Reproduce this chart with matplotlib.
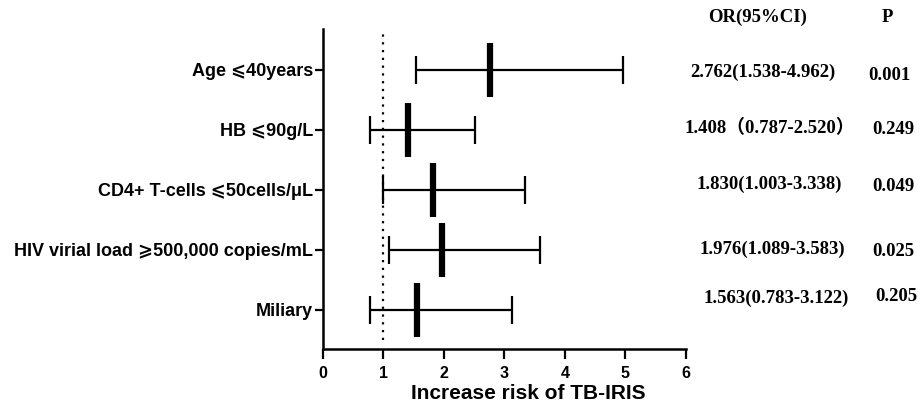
import numpy as np
import matplotlib
matplotlib.use("Agg")
import matplotlib.pyplot as plt

# ========================================================= #
# ===  data                                             === #
# ========================================================= #
labels   = [ "Age \u2a7d40years", "HB \u2a7d90g/L", "CD4+ T-cells \u2a7d50cells/\u03bcL",
             "HIV virial load \u2a7e500,000 copies/mL", "Miliary" ]
odds     = [ 2.762, 1.408, 1.830, 1.976, 1.563 ]
ci_low   = [ 1.538, 0.787, 1.003, 1.089, 0.783 ]
ci_high  = [ 4.962, 2.520, 3.338, 3.583, 3.122 ]
or_texts = [ "2.762(1.538-4.962)", "1.408\uff080.787-2.520\uff09", "1.830(1.003-3.338)",
             "1.976(1.089-3.583)", "1.563(0.783-3.122)" ]
p_texts  = [ "0.001", "0.249", "0.049", "0.025", "0.205" ]
xticks   = [ 0, 1, 2, 3, 4, 5, 6 ]

sans  = [ "Liberation Sans", "DejaVu Sans" ]
serif = [ "Liberation Serif", "Noto Sans CJK SC", "DejaVu Serif" ]

# ========================================================= #
# ===  plot region                                      === #
# ========================================================= #
fig = plt.figure( figsize=(9.22,4.12), dpi=100 )
ax  = fig.add_axes( [ 0.350, 0.153, 0.394, 0.777 ] )

n    = len( labels )
ypos = np.arange( n )[::-1]          # first row on top

# --- reference line at OR = 1 --- #
ax.vlines( 1.0, -0.5, 4.6, colors="black", linestyles=(0,(1,2.5)), linewidth=1.6 )

# --- CI whiskers with caps --- #
odds = np.array( odds ); lo = np.array( ci_low ); hi = np.array( ci_high )
ax.errorbar( odds, ypos, xerr=[ odds-lo, hi-odds ], fmt="none", ecolor="black",
             elinewidth=1.6, capsize=10, capthick=1.6 )
# --- point estimates as thick bars --- #
ax.plot( odds, ypos, linestyle="none", marker="|", markersize=39,
         markeredgewidth=4.5, color="black" )

# ========================================================= #
# ===  axis settings                                    === #
# ========================================================= #
ax.set_xlim( 0, 6 )
ax.set_ylim( -0.65, 4.683 )
ax.set_xticks( xticks )
ax.set_yticks( ypos )
ax.set_yticklabels( labels )
for t in ax.get_yticklabels():
    t.set_family( sans ); t.set_fontweight( "bold" ); t.set_fontsize( 13 )
for t in ax.get_xticklabels():
    t.set_family( sans ); t.set_fontweight( "bold" ); t.set_fontsize( 11.5 )
ax.tick_params( axis="x", direction="out", length=7, width=1.6, pad=5 )
ax.tick_params( axis="y", direction="out", length=6, width=1.6, pad=1 )
for s in [ "top", "right" ]:
    ax.spines[s].set_visible( False )
for s in [ "left", "bottom" ]:
    ax.spines[s].set_linewidth( 1.8 )
ax.set_xlabel( "Increase risk of TB-IRIS", family=sans, fontweight="bold",
               fontsize=15 )
ax.xaxis.label.set_va( "center" )
ax.xaxis.set_label_coords( 0.565, -0.138 )

# ========================================================= #
# ===  right-hand table                                 === #
# ========================================================= #
or_x = [ 7.27, 7.39, 7.38, 7.42, 7.49 ]
or_y = [ 3.95, 3.03, 2.10, 1.01, 0.20 ]
p_x  = [ 9.36, 9.42, 9.42, 9.42, 9.47 ]
p_y  = [ 3.90, 3.00, 2.06, 0.98, 0.23 ]
ax.text( 7.19, 4.87, "OR(95%CI)", family=serif, fontweight="bold", fontsize=13.5,
         ha="center", va="center", clip_on=False )
ax.text( 9.32, 4.87, "P", family=serif, fontweight="bold", fontsize=13.5,
         ha="center", va="center", clip_on=False )
for i in range( n ):
    ax.text( or_x[i], or_y[i], or_texts[i], family=serif, fontweight="bold",
             fontsize=13.5, ha="center", va="center", clip_on=False )
    ax.text( p_x[i], p_y[i], p_texts[i], family=serif, fontweight="bold",
             fontsize=13.5, ha="center", va="center", clip_on=False )

fig.savefig( "out.png", dpi=100 )
